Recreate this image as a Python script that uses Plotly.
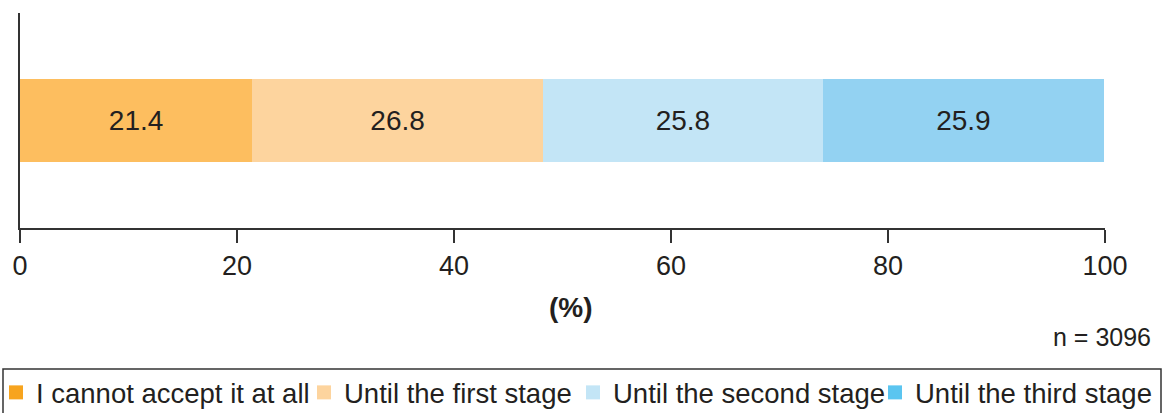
import plotly.graph_objects as go

categories = ["I cannot accept it at all", "Until the first stage",
              "Until the second stage", "Until the third stage"]
values = [21.4, 26.8, 25.8, 25.9]
bar_colors = ["#FDBE5F", "#FDD49E", "#C3E5F6", "#93D2F2"]
legend_colors = ["#F7A41E", "#FDD49E", "#C3E5F6", "#5BC5F0"]
row = ["all"]
x_ticks = [0, 20, 40, 60, 80, 100]
n_label = "n = 3096"
axis_title = "(%)"

FONT = "Liberation Sans, Arial, Helvetica, sans-serif"
TXT = "#231F20"
LINE = "#333333"
W, H = 1166, 413

# page-pixel positions of the legend entries (text start) in the layout
legend_text_x = [37, 345, 614, 916]
legend_ids = ["legend", "legend2", "legend3", "legend4"]

fig = go.Figure()
for cat, v, bc in zip(categories, values, bar_colors):
    fig.add_trace(go.Bar(
        x=[v], y=row, orientation="h", marker=dict(color=bc, line=dict(width=0)),
        text=[f"{v:.1f}"], textposition="inside", insidetextanchor="middle",
        textfont=dict(size=28, color=TXT, family=FONT),
        showlegend=False, name=cat, width=0.39, hoverinfo="x+name",
    ))
for cat, lc, lid in zip(categories, legend_colors, legend_ids):
    fig.add_trace(go.Scatter(
        x=[None], y=[None], mode="markers",
        marker=dict(color=lc, symbol="square", size=14, line=dict(width=0)),
        name=cat, showlegend=True, legend=lid,
    ))

legends = {}
for lid, tx in zip(legend_ids, legend_text_x):
    legends[lid] = dict(orientation="h", x=(tx - 41) / W, xanchor="left",
                        y=(H - 368) / H, yanchor="top", bgcolor="rgba(0,0,0,0)",
                        borderwidth=0, font=dict(size=27.5, color=TXT, family=FONT),
                        itemclick=False, itemdoubleclick=False)

fig.update_layout(
    width=W, height=H,
    barmode="stack",
    margin=dict(l=0, r=0, t=0, b=0, autoexpand=False),
    paper_bgcolor="white", plot_bgcolor="white",
    font=dict(family=FONT, size=27, color=TXT),
    xaxis=dict(domain=[20 / W, 1105 / W], range=[0, 100],
               tickvals=x_ticks, ticktext=[str(t) for t in x_ticks],
               showline=True, linecolor=LINE, linewidth=1.5,
               ticks="outside", ticklen=13, tickcolor=LINE, tickwidth=1.5,
               showgrid=False, zeroline=False,
               tickfont=dict(size=27, color=TXT)),
    yaxis=dict(domain=[(H - 228) / H, (H - 13) / H],
               showline=True, linecolor=LINE, linewidth=1.5,
               showticklabels=False, ticks="", showgrid=False, zeroline=False,
               range=[-0.5, 0.5]),
    shapes=[dict(type="rect", xref="paper", yref="paper",
                 x0=3 / W, x1=1161 / W, y0=-10 / H, y1=(H - 369) / H,
                 line=dict(color=LINE, width=1.5), fillcolor="rgba(0,0,0,0)", layer="above")],
    annotations=[
        dict(text=n_label, xref="paper", yref="paper", x=1153 / W, y=(H - 337) / H,
             xanchor="right", yanchor="middle", showarrow=False,
             font=dict(size=25, color=TXT)),
        dict(text=f"<b>{axis_title}</b>", xref="paper", yref="paper", x=571 / W, y=(H - 307) / H,
             xanchor="center", yanchor="middle", showarrow=False,
             font=dict(size=28, color=TXT)),
    ],
    **legends,
)

fig.write_html("out.html", config={"displayModeBar": False},
               post_script="document.body.style.margin='0px';")
